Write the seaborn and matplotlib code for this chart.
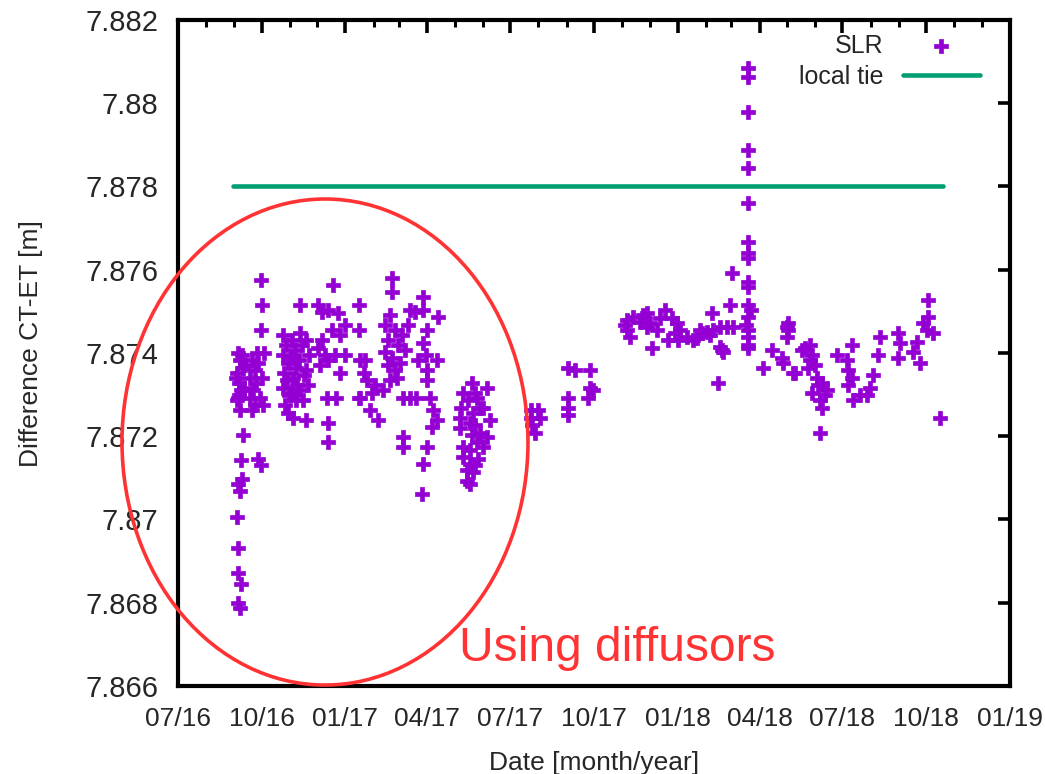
import numpy as np
import pandas as pd
import matplotlib
matplotlib.use("Agg")
import matplotlib.pyplot as plt
import matplotlib.dates as mdates
from matplotlib.patches import Ellipse
from matplotlib.ticker import FixedLocator, FixedFormatter
import seaborn as sns

# ---------------------------------------------------------------------------
# SLR-derived CT-ET height difference, one value per normal-point solution.
# Epochs are Modified Julian Dates.
# ---------------------------------------------------------------------------
slr_mjd = [
    # Sep 2016
    57638, 57636, 57639, 57636, 57636, 57635, 57638, 57636, 57640, 57639,
    57641, 57638, 57636, 57639, 57637, 57635, 57641, 57638, 57636, 57640,
    57644, 57634, 57643, 57637, 57635,
    57651, 57655, 57649, 57656, 57652, 57649, 57655, 57651, 57657, 57658,
    57661, 57662, 57661, 57664, 57662, 57660, 57663, 57658, 57661,
    # Oct - Nov 2016
    57685, 57689, 57685, 57691, 57686, 57690, 57685, 57692, 57688, 57691,
    57695, 57699, 57694, 57700, 57696, 57701, 57695, 57700, 57696, 57704,
    57704, 57706, 57703, 57708, 57704, 57707, 57711, 57714, 57711, 57713,
    57711,
    # Dec 2016
    57724, 57740, 57728, 57735, 57746, 57753, 57728, 57739, 57748, 57724,
    57731, 57742, 57753, 57735, 57726, 57748, 57734, 57744, 57735, 57735,
    # Jan 2017
    57769, 57769, 57770, 57769, 57774,
    # Feb - Apr 2017
    57805, 57805, 57839, 57825, 57839, 57856, 57803, 57797, 57808, 57816,
    57801, 57812, 57819, 57797, 57805, 57814, 57801, 57808, 57823, 57844,
    57839, 57855, 57844, 57844, 57778, 57786, 57795, 57803, 57811, 57783,
    57775, 57770, 57781, 57790, 57817, 57825, 57831, 57847, 57850, 57855,
    57849, 57817, 57817, 57844, 57839, 57838, 57830, 57834, 57842,
    # Jun 2017
    57893, 57909, 57883, 57898, 57905, 57913, 57880, 57880, 57891, 57902,
    57909, 57898, 57883, 57891, 57905, 57883, 57891, 57887, 57894, 57887,
    57891, 57902, 57894, 57896, 57889, 57881, 57896, 57893, 57900, 57896,
    # Aug 2017
    57958, 57958, 57959, 57962, 57966, 57968,
    # Sep 2017
    57998, 58006, 57998, 57998, 57999, 58023, 58023, 58020, 58026,
    # Nov 2017 - Mar 2018
    58063, 58063, 58067, 58070, 58085, 58085, 58089, 58091, 58105, 58118,
    58121, 58119, 58108, 58129, 58136, 58146, 58151, 58157, 58158, 58165,
    58173, 58176, 58165, 58169, 58163, 58061, 58078, 58081, 58113, 58116,
    58140, 58144, 58155, 58180, 58179, 58168, 58096, 58100,
    # Mar 2018
    58196, 58196, 58196, 58196, 58196, 58196, 58196, 58196, 58196, 58196,
    58196, 58196, 58196, 58196, 58196, 58196, 58196, 58194, 58199,
    # Apr - Oct 2018
    58223, 58213, 58234, 58239, 58239, 58235, 58246, 58240, 58240, 58248,
    58256, 58264, 58264, 58262, 58272, 58278, 58283, 58267, 58275, 58278,
    58275, 58294, 58310, 58305, 58306, 58310, 58306, 58311, 58327, 58330,
    58333, 58339, 58341, 58361, 58363, 58361, 58377, 58385, 58382, 58388,
    58394, 58394, 58393, 58399, 58407, 58266, 58270, 58259, 58281, 58273,
    58319,
]

slr_diff = [
    # Sep 2016
    7.86788, 7.86800, 7.86846, 7.86872, 7.86932, 7.87007, 7.87069, 7.87086, 7.87098, 7.87144,
    7.87204, 7.87262, 7.87291, 7.87310, 7.87327, 7.87351, 7.87365, 7.87382, 7.87399, 7.87394,
    7.87370, 7.87339, 7.87315, 7.87298, 7.87286,
    7.87382, 7.87358, 7.87339, 7.87327, 7.87310, 7.87293, 7.87274, 7.87262, 7.87399, 7.87375,
    7.87575, 7.87515, 7.87455, 7.87399, 7.87341, 7.87293, 7.87274, 7.87146, 7.87130,
    # Oct - Nov 2016
    7.87443, 7.87418, 7.87394, 7.87377, 7.87353, 7.87334, 7.87315, 7.87298, 7.87274, 7.87257,
    7.87430, 7.87406, 7.87387, 7.87363, 7.87341, 7.87322, 7.87303, 7.87286, 7.87243, 7.87515,
    7.87447, 7.87418, 7.87382, 7.87346, 7.87310, 7.87286, 7.87430, 7.87394, 7.87358, 7.87322,
    7.87238,
    # Dec 2016
    7.87515, 7.87563, 7.87498, 7.87503, 7.87495, 7.87467, 7.87430, 7.87455, 7.87443, 7.87411,
    7.87394, 7.87394, 7.87394, 7.87382, 7.87370, 7.87353, 7.87293, 7.87293, 7.87231, 7.87185,
    # Jan 2017
    7.87515, 7.87455, 7.87382, 7.87293, 7.87353,
    # Feb - Apr 2017
    7.87580, 7.87546, 7.87534, 7.87503, 7.87503, 7.87486, 7.87491, 7.87467, 7.87455, 7.87443,
    7.87430, 7.87418, 7.87406, 7.87402, 7.87387, 7.87377, 7.87370, 7.87358, 7.87467, 7.87455,
    7.87423, 7.87382, 7.87358, 7.87334, 7.87334, 7.87322, 7.87310, 7.87334, 7.87339, 7.87303,
    7.87382, 7.87293, 7.87262, 7.87238, 7.87293, 7.87293, 7.87293, 7.87293, 7.87262, 7.87238,
    7.87221, 7.87197, 7.87173, 7.87173, 7.87134, 7.87062, 7.87498, 7.87382, 7.87394,
    # Jun 2017
    7.87329, 7.87315, 7.87303, 7.87293, 7.87269, 7.87238, 7.87243, 7.87219, 7.87231, 7.87207,
    7.87197, 7.87185, 7.87173, 7.87166, 7.87173, 7.87149, 7.87134, 7.87118, 7.87113, 7.87093,
    7.87086, 7.87269, 7.87255, 7.87305, 7.87286, 7.87267, 7.87226, 7.87202, 7.87146, 7.87130,
    # Aug 2017
    7.87262, 7.87243, 7.87226, 7.87207, 7.87262, 7.87243,
    # Sep 2017
    7.87365, 7.87358, 7.87293, 7.87269, 7.87250, 7.87358, 7.87317, 7.87293, 7.87310,
    # Nov 2017 - Mar 2018
    7.87479, 7.87455, 7.87438, 7.87486, 7.87495, 7.87462, 7.87471, 7.87411, 7.87503, 7.87471,
    7.87455, 7.87430, 7.87430, 7.87438, 7.87430, 7.87447, 7.87450, 7.87495, 7.87455, 7.87462,
    7.87462, 7.87515, 7.87414, 7.87402, 7.87329, 7.87467, 7.87474, 7.87491, 7.87483, 7.87447,
    7.87435, 7.87455, 7.87443, 7.87462, 7.87592, 7.87406, 7.87455, 7.87483,
    # Mar 2018
    7.88085, 7.88063, 7.87979, 7.87888, 7.87844, 7.87760, 7.87666, 7.87640, 7.87628, 7.87570,
    7.87558, 7.87515, 7.87486, 7.87455, 7.87438, 7.87418, 7.87411, 7.87467, 7.87503,
    # Apr - Oct 2018
    7.87406, 7.87363, 7.87389, 7.87462, 7.87438, 7.87375, 7.87351, 7.87471, 7.87455, 7.87353,
    7.87406, 7.87418, 7.87382, 7.87363, 7.87341, 7.87327, 7.87310, 7.87303, 7.87286, 7.87269,
    7.87207, 7.87394, 7.87418, 7.87382, 7.87358, 7.87341, 7.87322, 7.87286, 7.87298, 7.87317,
    7.87346, 7.87394, 7.87438, 7.87447, 7.87423, 7.87387, 7.87402, 7.87375, 7.87426, 7.87471,
    7.87527, 7.87486, 7.87455, 7.87447, 7.87243, 7.87394, 7.87370, 7.87411, 7.87298, 7.87322,
    7.87298,
]

# Local-tie (terrestrial survey) value and the period it is drawn over
tie_value = 7.878
tie_mjd = [57630, 58410]

y_ticks = [7.866, 7.868, 7.870, 7.872, 7.874, 7.876, 7.878, 7.880, 7.882]
y_tick_labels = ["7.866", "7.868", "7.87", "7.872", "7.874", "7.876", "7.878", "7.88", "7.882"]

x_start, x_end = "2016-07-01", "2019-01-01"

# ---------------------------------------------------------------------------
MJD_EPOCH = pd.Timestamp("1858-11-17")


def mjd_to_datetime(mjd):
    return MJD_EPOCH + pd.to_timedelta(np.asarray(mjd, dtype=float), unit="D")


slr = pd.DataFrame({"date": mjd_to_datetime(slr_mjd), "diff": slr_diff})
tie = pd.DataFrame({"date": mjd_to_datetime(tie_mjd), "diff": [tie_value] * len(tie_mjd)})

sns.set_theme(style="white")
plt.rcParams["font.family"] = ["Liberation Sans", "DejaVu Sans"]

PURPLE = "#9400d3"
GREEN = "#009e73"
RED = "#ff3333"
TEXT = "#262626"

fig = plt.figure(figsize=(10.45, 7.74), dpi=100)
ax = fig.add_axes([0.1703, 0.1137, 0.7962, 0.8605])

sns.scatterplot(data=slr, x="date", y="diff", marker="P", s=95, color=PURPLE,
                edgecolor=PURPLE, linewidth=0.5, ax=ax, label="SLR", zorder=3)
sns.lineplot(data=tie, x="date", y="diff", color=GREEN, linewidth=3.3,
             ax=ax, label="local tie", zorder=2)

ax.set_xlim(pd.Timestamp(x_start), pd.Timestamp(x_end))
ax.set_ylim(y_ticks[0], y_ticks[-1])

ax.xaxis.set_major_locator(mdates.MonthLocator(bymonth=[1, 4, 7, 10]))
ax.xaxis.set_minor_locator(mdates.MonthLocator())
ax.xaxis.set_major_formatter(mdates.DateFormatter("%m/%y"))
ax.yaxis.set_major_locator(FixedLocator(y_ticks))
ax.yaxis.set_major_formatter(FixedFormatter(y_tick_labels))

ax.tick_params(which="both", direction="in", top=True, right=True,
               color="black", labelcolor=TEXT)
ax.tick_params(which="major", length=9, width=2.6)
ax.tick_params(which="minor", length=5, width=2.2)
ax.tick_params(axis="x", which="major", labelsize=19, pad=15)
ax.tick_params(axis="y", which="major", labelsize=21, pad=14)
for sp in ax.spines.values():
    sp.set_linewidth(3.0)
    sp.set_color("black")

ax.set_xlabel("Date [month/year]", fontsize=19, color=TEXT)
ax.set_ylabel("Difference CT-ET [m]", fontsize=19, color=TEXT)
ax.xaxis.set_label_coords(0.5, -0.097)
ax.yaxis.set_label_coords(-0.162, 0.514)

handles, labels = ax.get_legend_handles_labels()
leg = ax.legend(handles, labels, loc="upper right", bbox_to_anchor=(0.964, 0.979),
                frameon=False, markerfirst=False, handlelength=3.1,
                handletextpad=0.75, labelspacing=0.28, borderpad=0,
                borderaxespad=0, fontsize=18, scatterpoints=1)
for t in leg.get_texts():
    t.set_color(TEXT)

# Highlight of the early period measured with diffusors
fig.add_artist(Ellipse((0.311, 0.4289), 0.3885, 0.628, transform=fig.transFigure,
                       fill=False, edgecolor=RED, linewidth=2.6, zorder=5))
fig.text(0.5904, 1 - 661 / 774, "Using diffusors", color=RED, fontsize=34.5,
         ha="center", va="baseline")

fig.savefig("out.png", dpi=100)
